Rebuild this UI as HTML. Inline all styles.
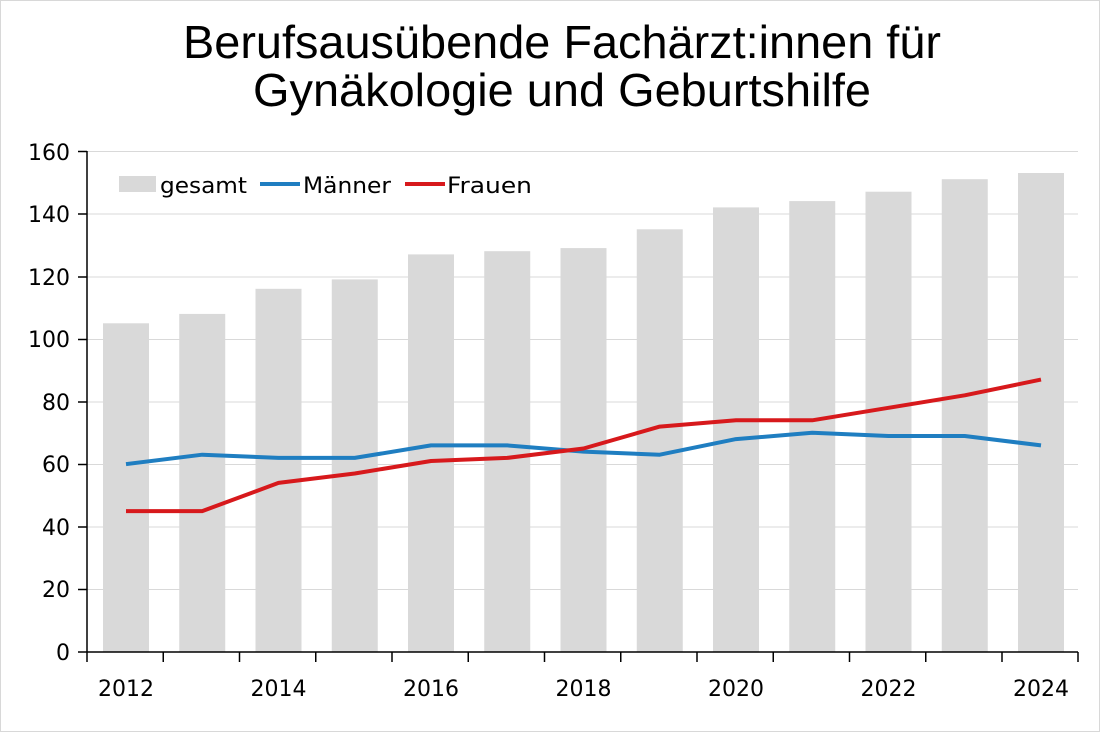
<!DOCTYPE html>
<html><head><meta charset="utf-8"><style>
html,body{margin:0;padding:0;background:#fff;}
svg{display:block;font-family:"DejaVu Sans","Liberation Sans",sans-serif;}
</style></head><body>
<svg width="1100" height="732" viewBox="0 0 1100 732">
<rect x="0.5" y="0.5" width="1099" height="731" fill="#fff" stroke="#d8d8d8"/>
<text x="562" y="58" font-size="46" text-anchor="middle" fill="#000" font-family="Liberation Sans, sans-serif" textLength="758" lengthAdjust="spacingAndGlyphs">Berufsausübende Fachärzt:innen für</text>
<text x="562" y="106" font-size="46" text-anchor="middle" fill="#000" font-family="Liberation Sans, sans-serif" textLength="618" lengthAdjust="spacingAndGlyphs">Gynäkologie und Geburtshilfe</text>
<g stroke="#d9d9d9" stroke-width="1">
<line x1="87" x2="1078" y1="151.5" y2="151.5"/>
<line x1="87" x2="1078" y1="214" y2="214"/>
<line x1="87" x2="1078" y1="277" y2="277"/>
<line x1="87" x2="1078" y1="339.5" y2="339.5"/>
<line x1="87" x2="1078" y1="402" y2="402"/>
<line x1="87" x2="1078" y1="464.5" y2="464.5"/>
<line x1="87" x2="1078" y1="527" y2="527"/>
<line x1="87" x2="1078" y1="589.5" y2="589.5"/>
</g>
<g fill="#d9d9d9">
<rect x="103" y="323.3" width="46" height="328.7"/>
<rect x="179.25" y="313.9" width="46" height="338.1"/>
<rect x="255.5" y="288.8" width="46" height="363.2"/>
<rect x="331.75" y="279.4" width="46" height="372.6"/>
<rect x="408" y="254.4" width="46" height="397.6"/>
<rect x="484.25" y="251.2" width="46" height="400.8"/>
<rect x="560.5" y="248.1" width="46" height="403.9"/>
<rect x="636.75" y="229.3" width="46" height="422.7"/>
<rect x="713" y="207.4" width="46" height="444.6"/>
<rect x="789.25" y="201.1" width="46" height="450.9"/>
<rect x="865.5" y="191.7" width="46" height="460.3"/>
<rect x="941.75" y="179.2" width="46" height="472.8"/>
<rect x="1018" y="173" width="46" height="479"/>
</g>
<polyline fill="none" stroke="#1f7ec1" stroke-width="4" stroke-linejoin="round" points="126,464.1 202.25,454.7 278.5,457.9 354.75,457.9 431,445.4 507.25,445.4 583.5,451.6 659.75,454.7 736,439.1 812.25,432.8 888.5,436 964.75,436 1041,445.4"/>
<polyline fill="none" stroke="#d7191c" stroke-width="4" stroke-linejoin="round" points="126,511.1 202.25,511.1 278.5,482.9 354.75,473.5 431,461 507.25,457.9 583.5,448.5 659.75,426.6 736,420.3 812.25,420.3 888.5,407.8 964.75,395.3 1041,379.6"/>
<g stroke="#000" stroke-width="1.5">
<line x1="87" y1="151" x2="87" y2="662"/>
<line x1="78" y1="652" x2="1078" y2="652"/>
<line x1="78" y1="151.5" x2="87" y2="151.5"/>
<line x1="78" y1="214" x2="87" y2="214"/>
<line x1="78" y1="277" x2="87" y2="277"/>
<line x1="78" y1="339.5" x2="87" y2="339.5"/>
<line x1="78" y1="402" x2="87" y2="402"/>
<line x1="78" y1="464.5" x2="87" y2="464.5"/>
<line x1="78" y1="527" x2="87" y2="527"/>
<line x1="78" y1="589.5" x2="87" y2="589.5"/>
<line x1="163.25" y1="652" x2="163.25" y2="662"/>
<line x1="239.5" y1="652" x2="239.5" y2="662"/>
<line x1="315.75" y1="652" x2="315.75" y2="662"/>
<line x1="392" y1="652" x2="392" y2="662"/>
<line x1="468.25" y1="652" x2="468.25" y2="662"/>
<line x1="544.5" y1="652" x2="544.5" y2="662"/>
<line x1="620.75" y1="652" x2="620.75" y2="662"/>
<line x1="697" y1="652" x2="697" y2="662"/>
<line x1="773.25" y1="652" x2="773.25" y2="662"/>
<line x1="849.5" y1="652" x2="849.5" y2="662"/>
<line x1="925.75" y1="652" x2="925.75" y2="662"/>
<line x1="1002" y1="652" x2="1002" y2="662"/>
<line x1="1078" y1="652" x2="1078" y2="662"/>
</g>
<g font-size="22" text-anchor="end" fill="#000">
<text x="70" y="160">160</text>
<text x="70" y="222">140</text>
<text x="70" y="285">120</text>
<text x="70" y="347">100</text>
<text x="70" y="410">80</text>
<text x="70" y="472">60</text>
<text x="70" y="535">40</text>
<text x="70" y="597">20</text>
<text x="70" y="660">0</text>
</g>
<g font-size="22" text-anchor="middle" fill="#000">
<text x="126" y="696">2012</text>
<text x="278.5" y="696">2014</text>
<text x="431" y="696">2016</text>
<text x="583.5" y="696">2018</text>
<text x="736" y="696">2020</text>
<text x="888.5" y="696">2022</text>
<text x="1041" y="696">2024</text>
</g>
<rect x="119" y="176" width="37" height="16" fill="#d9d9d9"/>
<text x="160" y="193" font-size="22" textLength="87" lengthAdjust="spacingAndGlyphs">gesamt</text>
<line x1="260" x2="300" y1="184" y2="184" stroke="#1f7ec1" stroke-width="4"/>
<text x="303" y="193" font-size="22" textLength="88" lengthAdjust="spacingAndGlyphs">Männer</text>
<line x1="405" x2="445" y1="184" y2="184" stroke="#d7191c" stroke-width="4"/>
<text x="447" y="193" font-size="22" textLength="85" lengthAdjust="spacingAndGlyphs">Frauen</text>
</svg>
</body></html>
